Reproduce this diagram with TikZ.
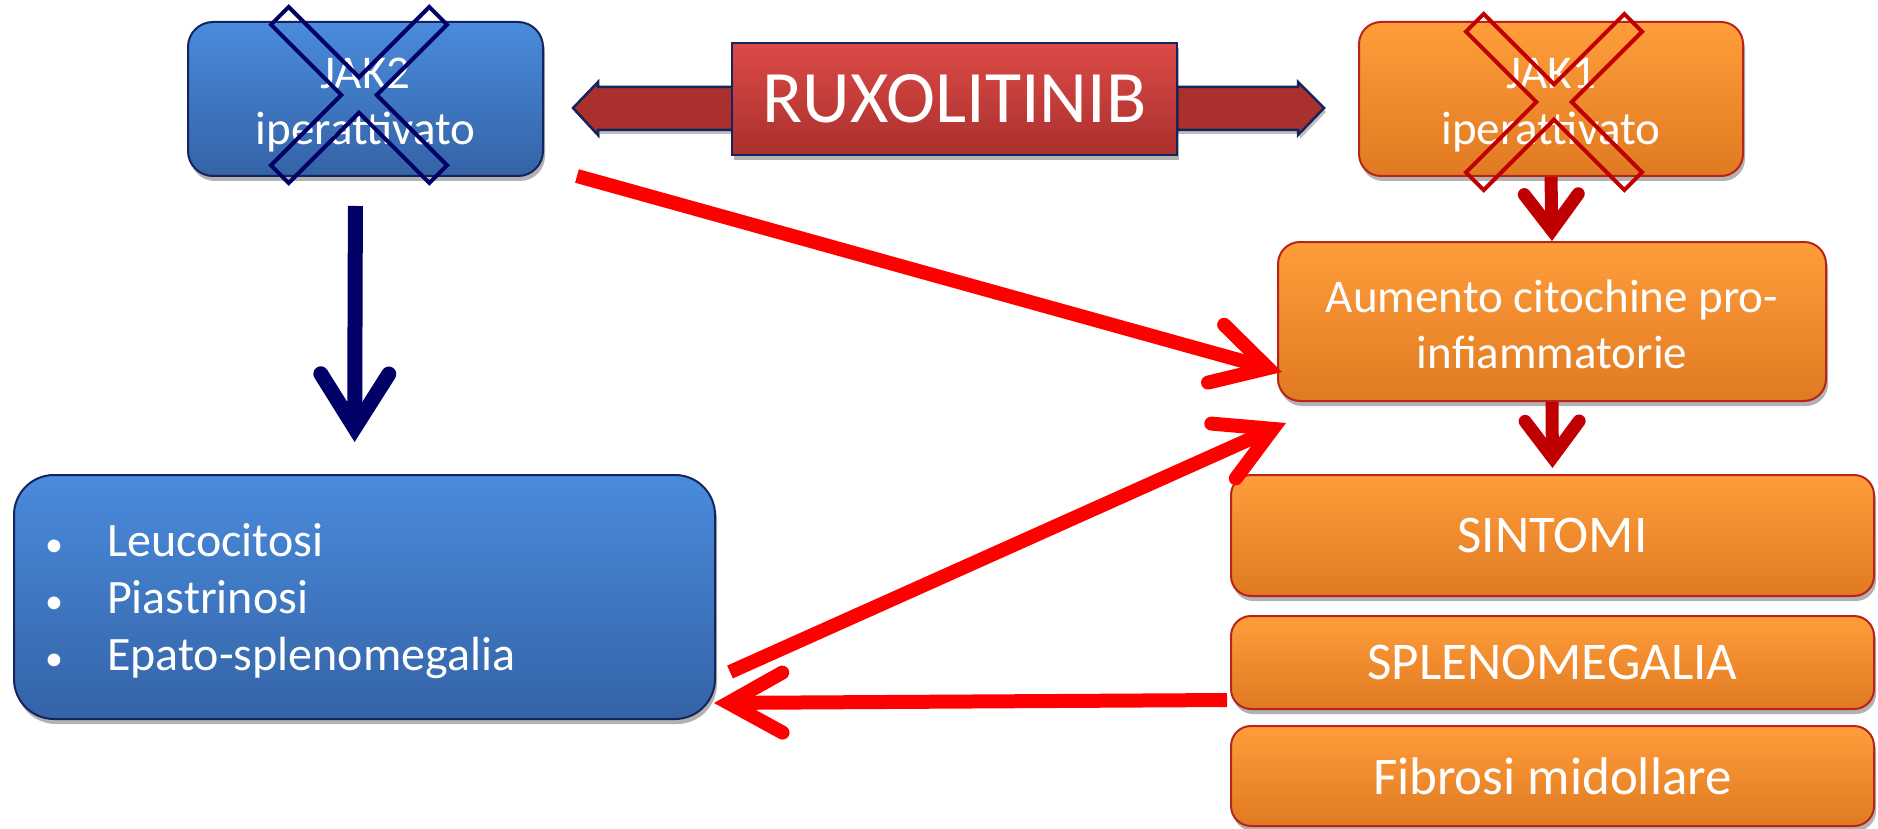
\documentclass[tikz,border=0pt]{standalone}
\usepackage{fontspec}
\setmainfont{Carlito}
\usetikzlibrary{arrows.meta,shadows}
\definecolor{navyc}{HTML}{000066}
\definecolor{bordernavy}{HTML}{14245E}
\definecolor{bluetop}{HTML}{4A8BDC}
\definecolor{bluebot}{HTML}{3463A6}
\definecolor{orangetop}{HTML}{FF9D3A}
\definecolor{orangebot}{HTML}{E07A22}
\definecolor{orangeborder}{HTML}{B8231A}
\definecolor{redc}{HTML}{FF0000}
\definecolor{dredc}{HTML}{C00000}
\definecolor{ruxtop}{HTML}{DC4A46}
\definecolor{ruxbot}{HTML}{A9302D}
\newcommand\blt{\makebox[63pt][l]{\hspace*{1pt}\fontsize{36}{36}\selectfont •}}
\begin{document}
\begin{tikzpicture}[x=1pt,y=-1pt,
  boxshadow/.style={drop shadow={shadow xshift=2pt,shadow yshift=-5pt,opacity=.3,fill=black}},
  bluebox/.style={draw=bordernavy,line width=2pt,top color=bluetop,bottom color=bluebot,
    rounded corners=25pt,text=white,inner sep=0pt,align=center,boxshadow},
  orangebox/.style={draw=orangeborder,line width=2pt,top color=orangetop,bottom color=orangebot,
    rounded corners=22pt,text=white,inner sep=0pt,align=center,boxshadow},
  midfont/.style={font=\fontsize{47}{56}\selectfont},
  bigfont/.style={font=\fontsize{53}{64}\selectfont},
  navyarr/.style={draw=navyc,line width=15pt,-{Straight Barb[length=54pt,width=68pt,line cap=round,line join=miter]}},
  dredarr/.style={draw=dredc,line width=13pt,-{Straight Barb[length=36pt,width=54pt,line cap=round,line join=miter]}},
  redarr/.style={draw=redc,line width=14pt,-{Straight Barb[length=54pt,width=60pt,line cap=round,line join=miter]}},
  xcross/.pic={\draw[pic actions,line width=4pt,line join=miter]
    (112,12.5) -- (12.5,12.5) -- (12.5,112) -- (-12.5,112) -- (-12.5,12.5) -- (-112,12.5)
    -- (-112,-12.5) -- (-12.5,-12.5) -- (-12.5,-112) -- (12.5,-112) -- (12.5,-12.5) -- (112,-12.5) -- cycle;}
]
\useasboundingbox (0,0) rectangle (1878,829);

% double arrow behind RUXOLITINIB
\path[draw=bordernavy,line width=2.5pt,line join=miter,shading=axis,
  left color=ruxbot,middle color=ruxtop,right color=ruxbot,
  drop shadow={shadow xshift=2pt,shadow yshift=-4pt,opacity=.25,fill=black}]
  (573,108) -- (598,82) -- (598,87) -- (1298,87) -- (1298,82) -- (1324,108)
  -- (1298,135) -- (1298,130) -- (598,130) -- (598,135) -- cycle;
\node[draw=bordernavy,line width=2.5pt,top color=ruxtop,bottom color=ruxbot,text=white,
  minimum width=445pt,minimum height=112pt,inner sep=0pt,boxshadow,
  font=\fontsize{74}{88}\selectfont] (rux) at (954.5,99) {RUXOLITINIB};

% boxes
\node[bluebox,midfont,minimum width=355pt,minimum height=154pt] (jak2) at (365.5,99) {\rule{0pt}{42pt}JAK2\\iperattivato};
\node[orangebox,midfont,minimum width=384pt,minimum height=154pt] (jak1) at (1551,99) {\rule{0pt}{42pt}JAK1\\iperattivato};
\node[orangebox,midfont,minimum width=548pt,minimum height=159pt] (aum) at (1552,321.5) {\rule{0pt}{38pt}Aumento citochine pro-\\infiammatorie};
\node[orangebox,bigfont,rounded corners=20pt,minimum width=643pt,minimum height=121pt] (sint) at (1552.5,535.5) {SINTOMI};
\node[orangebox,bigfont,rounded corners=20pt,minimum width=643pt,minimum height=93pt] (splen) at (1552.5,662.5) {SPLENOMEGALIA};
\node[orangebox,bigfont,rounded corners=20pt,minimum width=643pt,minimum height=100pt] (fib) at (1552.5,776) {Fibrosi midollare};
\node[bluebox,rounded corners=40pt,minimum width=701pt,minimum height=244pt,text width=701pt,align=left,
  font=\fontsize{48}{57}\selectfont] (left) at (364.5,597)
  {\rule{0pt}{41pt}\hspace*{30pt}\blt Leucocitosi\\
   \hspace*{30pt}\blt Piastrinosi\\
   \hspace*{30pt}\blt Epato-splenomegalia};

% crosses
\pic[draw=navyc,rotate=45] at (359,95) {xcross};
\pic[draw=dredc,rotate=45,line width=5pt] at (1554,102) {xcross};

% connectors
\draw[navyarr,shorten <=29pt,shorten >=32pt] ([xshift=-10pt]jak2.south) -- ([xshift=-10pt]left.north);
\draw[dredarr] (jak1.south) -- (aum.north);
\draw[dredarr,shorten >=6pt] (aum.south) -- (sint.north);
\draw[redarr] ([xshift=33pt,yshift=1pt]jak2.south east) -- ([xshift=5pt,yshift=-50.5pt]aum.west);
\draw[redarr] ([xshift=14pt,yshift=-75pt]left.east) -- ([xshift=9pt,yshift=-21pt]aum.south west);
\draw[redarr] ([xshift=-3pt,yshift=-37.5pt]splen.west) -- ([xshift=-2pt,yshift=17pt]left.south east);
\end{tikzpicture}
\end{document}
